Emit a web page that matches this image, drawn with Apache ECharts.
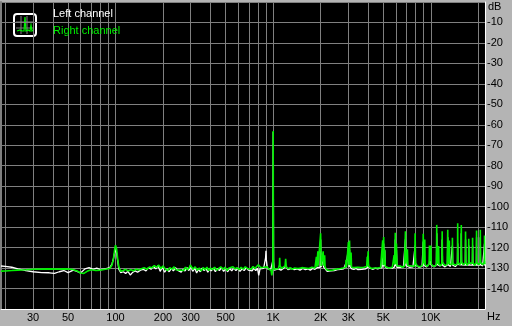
<!DOCTYPE html>
<html>
<head>
<meta charset="utf-8">
<script src="https://cdn.jsdelivr.net/npm/echarts@6/dist/echarts.min.js"></script>
<style>
html,body{margin:0;padding:0;background:#b4b4b4;}
#chart{width:512px;height:326px;}
</style>
</head>
<body>
<div id="chart"></div>
<script>
// ---- data (frequency in Hz, level in dB) ----
const freqRange = [18.78, 22050];
const dbRange = [-150, 0];
const gridFreqs = [20,30,40,50,60,70,80,90,100,200,300,400,500,600,700,800,900,1000,2000,3000,4000,5000,6000,7000,8000,9000,10000,20000];
const labelFreqs = [30,50,100,200,300,500,1000,2000,3000,5000,10000];
const seriesNames = ['Left channel', 'Right channel'];

const leftChannel = [
[18.78,-129.0],[20,-129.2],[22,-129.6],[24,-130.4],[27,-131.2],[30,-131.8],[34,-132.2],[38,-132.3],[41,-132.6],[44,-131.8],[47,-131.2],[50,-132.2],[54,-131.0],[57,-131.6],[60,-132.4],[64,-130.4],[68,-129.8],[72,-130.6],[76,-130.0],[80,-130.8],[86,-130.4],[92,-129.8],[95,-128.0],[97,-125.5],[99,-122],[100,-121],[101.5,-122.5],[103,-126],[105,-130.5],[108,-132.2],[112,-131.8],[116,-132.6],[120,-131.6],[124,-133.4],[128,-132.2],[133,-131.4],[138,-132.0],[144,-131.0],[150,-130.6],[156,-131.4],[162,-129.8],[168,-130.6],[174,-129.2],[180,-130.4],[186,-128.8],[192,-131.6],[198,-129.6],[205,-132.0],[212,-130.4],[219,-131.8],[226,-130.2],[233,-131.4],[240,-129.8],[247,-131.0],[254,-130.2],[261,-132.0],[268,-130.6],[276,-131.4],[284,-129.8],[292,-131.2],[300,-129.4],[309,-131.6],[318,-130.0],[327,-132.4],[336,-130.6],[345,-131.8],[355,-130.0],[365,-131.2],[375,-130.2],[385,-132.0],[395,-130.4],[405,-131.4],[417,-130.0],[430,-131.8],[443,-130.2],[456,-131.2],[470,-129.8],[485,-131.6],[500,-130.4],[515,-131.8],[530,-130.2],[546,-131.4],[562,-130.0],[580,-131.2],[598,-130.2],[616,-131.6],[635,-130.4],[655,-131.2],[675,-129.8],[695,-131.0],[715,-130.2],[735,-131.4],[755,-130.0],[775,-131.2],[795,-130.2],[810,-133.6],[825,-130.4],[845,-131.0],[870,-130.2],[885,-129.6],[895,-125],[900,-121.6],[905,-126],[920,-130.4],[945,-129.8],[965,-130.8],[985,-130.0],[994,-126.5],[1000,-63.5],[1006,-126.5],[1015,-131.0],
[1040,-130.8],[1080,-130.4],[1120,-131.0],[1160,-130.2],[1200,-129.0],[1240,-130.8],[1300,-130.2],[1360,-130.8],[1420,-130.4],[1480,-131.0],[1540,-130.2],[1600,-130.8],[1660,-130.4],[1720,-131.0],[1780,-130.2],[1840,-130.6],[1900,-129.8],[1950,-130.2],[1985,-129.6],[2000,-116],[2015,-129.6],[2070,-129.2],[2075,-124.5],[2085,-129.4],[2150,-130.6],[2200,-131.6],[2260,-131.8],[2320,-131.4],[2380,-131.8],[2440,-131.2],[2500,-131.4],[2560,-130.8],[2620,-131.2],[2680,-130.6],[2740,-130.8],[2800,-130.4],[2860,-130.6],[2880,-128],[2900,-129.8],[2975,-129.6],[3000,-120],[3025,-129.4],[3050,-121],[3075,-129.4],[3150,-130.4],[3250,-130.6],[3350,-130.2],[3450,-130.8],[3550,-130.2],[3650,-130.6],[3750,-130.0],[3850,-130.4],[3975,-129.6],[4000,-124],[4025,-129.6],[4150,-130.2],[4300,-130.6],[4450,-130.0],[4600,-130.4],[4750,-130.0],[4900,-129.8],[4950,-120],[4985,-129.2],[5020,-118],[5055,-129.0],[5100,-121.3],[5140,-129.6],[5300,-130.0],[5500,-129.8],[5700,-130.0],[5900,-129.4],[5950,-116],[6000,-129.0],[6050,-121],[6100,-129.6],[6400,-129.6],[6700,-129.4],[6860,-129.0],[6900,-116],[6940,-128.8],[7300,-129.6],[7700,-129.4],[7900,-128.6],[7950,-119],[8000,-128.6],[8400,-129.6],[8800,-129.2],[8900,-128.6],[8950,-117],[9000,-128.6],[9400,-129.4],[9800,-127.8],[9900,-121],[10000,-128.4],[10500,-129.4],[10850,-128.4],[10900,-113],[10960,-128.2],[11400,-129.0],[11750,-128.6],[11800,-116],[11860,-128.6],[12300,-129.4],[12750,-128.4],[12800,-115],[12860,-128.4],[13300,-129.2],[13650,-128.6],[13700,-119],[13760,-128.6],[14300,-129.2],[14750,-128.2],[14800,-118],[14860,-128.2],[15200,-129.0],[15550,-128.4],[15600,-113],[15660,-128.4],[16100,-129.0],[16550,-128.6],[16600,-116],[16660,-128.6],[17000,-129.2],[17350,-128.6],[17400,-119],[17460,-128.6],[17900,-129.0],[18350,-128.6],[18400,-119],[18460,-128.6],[19000,-129.2],[19450,-128.6],[19500,-115],[19560,-128.6],[20100,-129.0],[20550,-128.6],[20600,-115],[20660,-128.4],[21300,-129.0],[21850,-128.4],[21900,-118],[21960,-128.4],[22050,-128.8]
];

const rightChannel = [
[18.78,-131.5],[20,-131.4],[22,-131.2],[24,-131.0],[27,-130.8],[30,-130.6],[34,-130.5],[38,-130.4],[43,-130.5],[48,-130.4],[53,-130.6],[57,-131.4],[60,-132.4],[63,-132.6],[66,-131.6],[70,-130.8],[75,-131.2],[80,-131.0],[86,-130.6],[92,-130.2],[95,-128.5],[97,-125.5],[99,-120.5],[100,-118.8],[101.5,-120.5],[103,-125],[105,-129.5],[108,-131.6],[112,-131.2],[116,-130.6],[120,-131.4],[125,-130.8],[130,-131.3],[135,-130.5],[140,-131.0],[146,-130.3],[152,-129.8],[158,-130.6],[164,-129.5],[170,-129.9],[176,-128.8],[182,-129.6],[188,-128.6],[194,-130.2],[200,-129.0],[207,-130.4],[214,-131.2],[221,-129.8],[228,-130.6],[235,-129.4],[242,-130.8],[249,-130.0],[256,-131.0],[263,-130.2],[270,-131.2],[278,-129.6],[286,-130.8],[294,-129.8],[298,-128.5],[300,-127.8],[302,-129.2],[310,-130.6],[320,-129.4],[330,-131.0],[340,-130.0],[350,-131.4],[360,-129.8],[370,-130.8],[380,-129.6],[390,-131.2],[400,-130.0],[412,-130.8],[425,-129.6],[438,-131.0],[450,-130.2],[465,-129.4],[480,-130.6],[495,-129.6],[510,-131.2],[525,-130.0],[540,-130.8],[556,-129.4],[572,-130.4],[590,-129.8],[608,-130.8],[626,-129.6],[645,-130.6],[665,-129.4],[685,-130.2],[705,-129.6],[725,-130.6],[745,-129.2],[765,-130.2],[785,-129.4],[805,-128.4],[820,-127.6],[835,-129.8],[855,-130.6],[875,-129.6],[895,-130.0],[915,-129.4],[935,-130.4],[955,-129.6],[970,-131.2],[980,-133.6],[990,-131.5],[996,-126],[1000,-63],[1004,-126],[1010,-130.5],[1025,-129.6],
[1040,-130.4],[1060,-129.8],[1080,-130.2],[1095,-128.5],[1100,-125.0],[1105,-128.8],[1130,-130.2],[1160,-129.8],[1190,-129.0],[1200,-125.5],[1210,-129.2],[1240,-130.4],[1280,-129.8],[1320,-130.6],[1360,-130.0],[1400,-130.8],[1440,-130.2],[1480,-130.6],[1520,-129.8],[1560,-130.4],[1600,-130.0],[1640,-130.8],[1680,-130.2],[1720,-130.6],[1760,-129.6],[1800,-130.4],[1840,-130.0],[1865,-129.6],[1880,-124.5],[1895,-129.4],[1910,-128.6],[1920,-121.8],[1930,-128.8],[1985,-129.2],[2000,-113],[2015,-129.0],[2060,-128.8],[2075,-121.8],[2090,-128.8],[2110,-128.6],[2120,-123.7],[2135,-129.5],[2180,-130.8],[2230,-131.4],[2280,-131.2],[2330,-131.6],[2380,-131.0],[2430,-131.4],[2480,-130.6],[2530,-131.0],[2580,-130.4],[2630,-130.8],[2680,-130.2],[2730,-130.6],[2780,-130.0],[2830,-130.4],[2880,-129.4],[2900,-126],[2920,-129.6],[2975,-129.2],[3000,-117.3],[3025,-128.6],[3050,-116.5],[3075,-128.6],[3100,-128.8],[3120,-122.4],[3140,-129.6],[3200,-130.2],[3280,-129.8],[3360,-130.4],[3440,-129.6],[3520,-130.2],[3600,-129.8],[3680,-130.2],[3760,-129.6],[3840,-130.0],[3920,-129.2],[3950,-124.5],[3975,-128.8],[4000,-121.8],[4025,-129.2],[4100,-129.8],[4200,-130.2],[4300,-129.6],[4400,-130.0],[4500,-129.4],[4600,-130.0],[4700,-129.6],[4800,-129.8],[4900,-129.2],[4950,-116.5],[4985,-128.6],[5020,-114.8],[5055,-128.4],[5100,-121],[5140,-129.2],[5250,-129.6],[5400,-130.0],[5550,-129.4],[5700,-129.6],[5800,-128.8],[5850,-123.7],[5900,-128.4],[5950,-112.7],[6000,-128.0],[6050,-118],[6100,-129.0],[6250,-129.6],[6400,-129.0],[6600,-129.6],[6800,-129.0],[6860,-128.2],[6900,-112],[6940,-127.8],[7050,-128.6],[7100,-120.8],[7150,-128.8],[7350,-129.4],[7600,-129.0],[7850,-129.2],[7900,-127.8],[7950,-113],[8000,-127.6],[8200,-129.0],[8500,-129.4],[8800,-128.8],[8900,-127.6],[8950,-113.2],[9000,-127.6],[9150,-116],[9200,-128.4],[9500,-129.2],[9750,-127.8],[9800,-119],[9850,-126.6],[9950,-126.8],[10000,-119],[10050,-128],[10400,-129.2],[10800,-128.6],[10850,-127.2],[10900,-108.9],[10960,-127.0],[11150,-128.0],[11200,-119.2],[11260,-128.4],[11650,-128.6],[11750,-127.4],[11800,-112],[11860,-127.2],[12300,-128.8],[12700,-128.2],[12750,-127.4],[12800,-111.3],[12860,-127.0],[13050,-128.0],[13100,-116.5],[13160,-128.0],[13600,-128.4],[13650,-127.4],[13700,-115.2],[13760,-127.4],[14200,-128.6],[14700,-128.0],[14750,-126.8],[14800,-108.1],[14860,-126.8],[15200,-128.4],[15550,-127.4],[15600,-108.9],[15660,-127.0],[16100,-128.4],[16550,-127.4],[16600,-112.1],[16660,-127.2],[17000,-128.6],[17350,-127.6],[17400,-115.7],[17460,-127.6],[17900,-128.4],[18350,-127.6],[18400,-115.2],[18460,-127.4],[19000,-128.6],[19450,-127.4],[19500,-111.7],[19560,-127.2],[20100,-128.4],[20550,-127.4],[20600,-111.3],[20660,-127.2],[21300,-128.4],[21850,-127.0],[21900,-114.1],[21960,-127.0],[22050,-128.2]
];

// ---- chart ----
const lg = v => Math.log10(v);
const toXY = arr => arr.map(p => [lg(p[0]), p[1]]);
const fmtHz = v => {
  const f = Math.round(Math.pow(10, v));
  return f >= 1000 ? (f / 1000) + 'K' : String(f);
};
const labelFont = { color: '#000', fontSize: 11, fontFamily: 'Liberation Sans, Arial, sans-serif' };

const chart = echarts.init(document.getElementById('chart'), null, { renderer: 'canvas' });
chart.setOption({
  animation: false,
  backgroundColor: '#b4b4b4',
  grid: {
    left: 1, right: 27, top: 2, bottom: 17,
    show: true, backgroundColor: '#000', borderWidth: 0
  },
  legend: {
    orient: 'vertical',
    left: 43, top: 3,
    padding: 5,
    itemWidth: 0, itemHeight: 0, itemGap: 6,
    icon: 'none',
    selectedMode: false,
    data: [
      { name: seriesNames[0], textStyle: { color: '#ffffff' } },
      { name: seriesNames[1], textStyle: { color: '#00f000' } }
    ],
    textStyle: { fontSize: 11, fontFamily: 'Liberation Sans, Arial, sans-serif' }
  },
  xAxis: {
    type: 'value',
    min: lg(freqRange[0]), max: lg(freqRange[1]),
    name: 'Hz', nameLocation: 'end', nameGap: 2,
    nameTextStyle: Object.assign({ align: 'left', verticalAlign: 'top', padding: [2, 0, 0, 0] }, labelFont),
    axisLine: { show: true, onZero: false, lineStyle: { color: '#ffffff', width: 1 } },
    axisTick: { show: false, customValues: gridFreqs.map(lg) },
    axisLabel: Object.assign({ customValues: labelFreqs.map(lg), formatter: fmtHz, margin: 3 }, labelFont),
    splitLine: { show: true, lineStyle: { color: '#808080', width: 1 } }
  },
  yAxis: [{
    type: 'value', position: 'right',
    min: dbRange[0], max: dbRange[1], interval: 10,
    name: 'dB', nameLocation: 'end', nameGap: -5,
    nameTextStyle: Object.assign({ align: 'left', verticalAlign: 'middle', padding: [0, 0, 0, 3] }, labelFont),
    axisLine: { show: true, onZero: false, lineStyle: { color: '#ffffff', width: 1 } },
    axisTick: { show: false },
    axisLabel: Object.assign({ margin: 2, formatter: v => (v === 0 || v === -150) ? '' : String(v) }, labelFont),
    splitLine: { show: true, lineStyle: { color: '#808080', width: 1 } }
  }, {
    type: 'value', position: 'left',
    min: dbRange[0], max: dbRange[1],
    axisLine: { show: true, onZero: false, lineStyle: { color: '#808080', width: 2 } },
    axisTick: { show: false }, axisLabel: { show: false }, splitLine: { show: false }
  }],
  graphic: [{
    type: 'group', left: 13, top: 13,
    children: [
      { type: 'rect', shape: { x: 0, y: 0, width: 22, height: 22, r: 3 }, style: { fill: '#000', stroke: '#ffffff', lineWidth: 2 } },
      { type: 'line', shape: { x1: 7, y1: 2, x2: 7, y2: 20 }, style: { stroke: '#808080', lineWidth: 1 } },
      { type: 'line', shape: { x1: 13, y1: 2, x2: 13, y2: 20 }, style: { stroke: '#808080', lineWidth: 1 } },
      { type: 'line', shape: { x1: 2, y1: 8, x2: 20, y2: 8 }, style: { stroke: '#808080', lineWidth: 1 } },
      { type: 'line', shape: { x1: 2, y1: 14, x2: 20, y2: 14 }, style: { stroke: '#808080', lineWidth: 1 } },
      { type: 'polyline', shape: { points: [[3,17],[6,16],[8,17],[10,17],[11,3],[12,17],[14,16],[16,17],[17,11],[18,17],[19,16]] }, style: { stroke: '#00f000', lineWidth: 1.2, fill: null } }
    ]
  }],
  series: [{
    name: seriesNames[0], type: 'line', data: toXY(leftChannel),
    showSymbol: false, symbol: 'none',
    lineStyle: { color: '#ffffff', width: 1.3 }, itemStyle: { color: '#ffffff' },
    clip: true, z: 2
  }, {
    name: seriesNames[1], type: 'line', data: toXY(rightChannel),
    showSymbol: false, symbol: 'none',
    lineStyle: { color: '#00f000', width: 1.6 }, itemStyle: { color: '#00f000' },
    clip: true, z: 3
  }]
});
</script>
</body>
</html>
